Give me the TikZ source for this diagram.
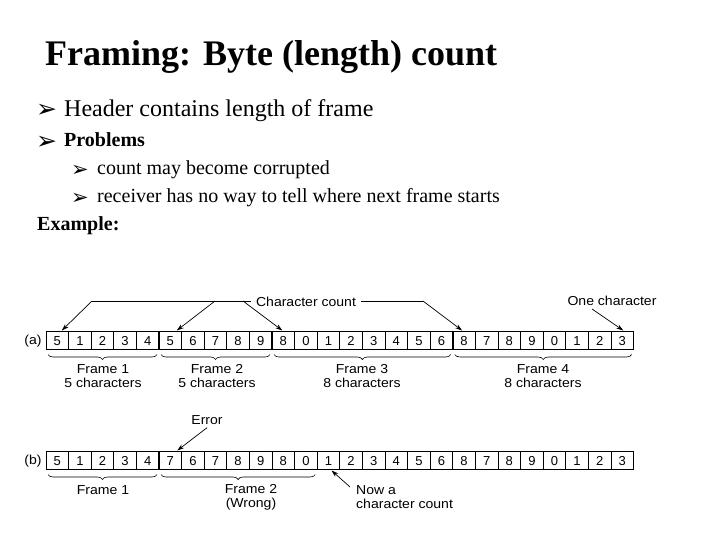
\documentclass[tikz,border=0pt]{standalone}
\usepackage{fontspec}
\setmainfont{Liberation Serif}
\newfontfamily\diagfont[FakeStretch=1.08]{Liberation Sans}
\newfontfamily\cellfont{Liberation Sans}
\newfontfamily\symfont{DejaVu Sans}
\usetikzlibrary{arrows.meta,decorations.pathreplacing,calc}
\begin{document}
\begin{tikzpicture}[x=1pt,y=-1pt,
  cell/.style={draw,line width=0.8pt,minimum width=22.6pt,minimum height=18pt,inner sep=0pt,outer sep=0pt,text height=9.3pt,text depth=0pt,font=\cellfont\fontsize{13}{13}\selectfont},
  lbl/.style={font=\diagfont\fontsize{13}{13}\selectfont,inner sep=0pt},
  arr/.style={-{Stealth[length=7pt,width=4.5pt]},line width=0.7pt},
  brc/.style={decorate,decoration={brace,mirror,amplitude=5pt},line width=0.6pt},
  sepline/.style={line width=1.8pt},
  txt/.style={anchor=base west,inner sep=0pt},
  bul/.style={anchor=base west,inner sep=0pt,font=\symfont\fontsize{25}{25}\selectfont},
  bulsmall/.style={anchor=base west,inner sep=0pt,font=\symfont\fontsize{21}{21}\selectfont}]
\useasboundingbox (0,0) rectangle (720,540);
\fill[white] (0,0) rectangle (720,540);

% title and bullet text
\node[txt,font=\bfseries\fontsize{36}{36}\selectfont] (title) at (45,66) {Framing: Byte (length) count};
\node[bul] (u1) at (36,118) {➢};
\node[txt,font=\fontsize{24}{24}\selectfont] (t1) at (64,117) {Header contains length of frame};
\node[bul] (u2) at (36,150) {➢};
\node[txt,font=\bfseries\fontsize{20}{20}\selectfont] (t2) at (64,147) {Problems};
\node[bulsmall] (u3) at (71,177) {➢};
\node[txt,font=\fontsize{20}{20}\selectfont] (t3) at (97,175) {count may become corrupted};
\node[bulsmall] (u4) at (71,205) {➢};
\node[txt,font=\fontsize{20}{20}\selectfont] (t4) at (97,203) {receiver has no way to tell where next frame starts};
\node[txt,font=\bfseries\fontsize{20}{20}\selectfont] (t5) at (37,230) {Example:};

% row (a)
\node[lbl] (la) at (33,341) {(a)};
\foreach \v [count=\i] in {5,1,2,3,4,5,6,7,8,9,8,0,1,2,3,4,5,6,8,7,8,9,0,1,2,3}
  \node[cell] (a\i) at ({46+(\i-0.5)*22.6},340.5) {\v};
\foreach \k in {5,10,18}
  \draw[sepline] (a\k.north east) -- (a\k.south east);

\draw[brc] ([xshift=2pt,yshift=-5pt]a1.south west) -- ([xshift=-2pt,yshift=-5pt]a5.south east);
\draw[brc] ([xshift=2pt,yshift=-5pt]a6.south west) -- ([xshift=-2pt,yshift=-5pt]a10.south east);
\draw[brc] ([xshift=2pt,yshift=-5pt]a11.south west) -- ([xshift=-2pt,yshift=-5pt]a18.south east);
\draw[brc] ([xshift=2pt,yshift=-5pt]a19.south west) -- ([xshift=-2pt,yshift=-5pt]a26.south east);
\node[lbl,align=center] (fa1) at (103,376) {Frame 1\\[1pt]5 characters};
\node[lbl,align=center] (fa2) at (217,376) {Frame 2\\[1pt]5 characters};
\node[lbl,align=center] (fa3) at (362,376) {Frame 3\\[1pt]8 characters};
\node[lbl,align=center] (fa4) at (543,376) {Frame 4\\[1pt]8 characters};

\node[lbl] (cc) at (306,302) {Character count};
\coordinate (c1) at (92,301);
\coordinate (c2) at (215,301);
\coordinate (c3) at (243,301);
\coordinate (c4) at (423,301);
\draw[line width=0.7pt] (c1) -- ([xshift=-5pt]cc.west |- c1);
\draw[line width=0.7pt] ([xshift=5pt]cc.east |- c4) -- (c4);
\draw[arr] (c1) -- ([xshift=4.5pt,yshift=1pt]a1.north);
\draw[arr] (c2) -- ([xshift=6.5pt,yshift=1pt]a6.north);
\draw[arr] (c3) -- ([xshift=-1pt,yshift=1pt]a11.north);
\draw[arr] (c4) -- ([xshift=-2pt,yshift=1pt]a19.north);

\node[lbl] (oc) at (612,301) {One character};
\draw[arr] ([xshift=-20pt,yshift=-3pt]oc.south) -- ([xshift=1pt,yshift=1pt]a26.north);

% row (b)
\node[lbl] (lb) at (33,461) {(b)};
\foreach \v [count=\i] in {5,1,2,3,4,7,6,7,8,9,8,0,1,2,3,4,5,6,8,7,8,9,0,1,2,3}
  \node[cell] (b\i) at ({46+(\i-0.5)*22.6},460.5) {\v};
\draw[sepline] (b5.north east) -- (b5.south east);

\draw[brc] ([xshift=2pt,yshift=-5pt]b1.south west) -- ([xshift=-2pt,yshift=-5pt]b5.south east);
\draw[brc] ([xshift=2pt,yshift=-5pt]b6.south west) -- ([xshift=-2pt,yshift=-5pt]b12.south east);
\node[lbl] (fb1) at (103,490) {Frame 1};
\node[lbl,align=center] (fb2) at (251,497) {Frame 2\\[1pt](Wrong)};

\node[lbl] (err) at (207,420) {Error};
\draw[arr] ([yshift=-3pt]err.south) -- ([xshift=7pt,yshift=1pt]b6.north);

\node[lbl,align=left,anchor=west] (now) at (356,497) {Now a\\[1pt]character count};
\draw[arr] ([xshift=-6pt,yshift=10pt]now.west) -- ([xshift=3pt,yshift=-1pt]b13.south);
\end{tikzpicture}
\end{document}
